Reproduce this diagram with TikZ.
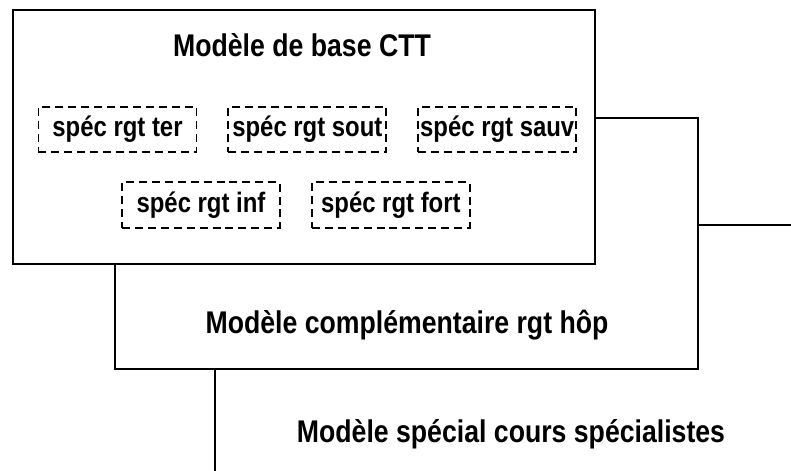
\documentclass[tikz,border=0pt]{standalone}
\usepackage{fontspec}
\newfontfamily\condfont{Liberation Sans}[FakeStretch=0.85]
\usetikzlibrary{positioning}

\tikzset{
  layer/.style={draw, line width=1.4pt, fill=white},
  title/.style={anchor=base, inner sep=0pt, font=\condfont\bfseries\fontsize{22.3}{26}\selectfont},
  specbox/.style={draw, line width=1.3pt, dash pattern=on 5.7pt off 3.5pt,
    minimum width=3.95cm, minimum height=1.13cm, inner sep=0pt,
    font=\condfont\bfseries\fontsize{20}{24}\selectfont}
}

\begin{document}
\begin{tikzpicture}[x=0.025cm, y=-0.025cm]
    \useasboundingbox (0, 0) rectangle (791, 470);
    \clip (0, 0) rectangle (791, 470);

    % layers, back to front
    \draw[layer] (215, 225) rectangle (830, 520);
    \draw[layer] (115, 118) rectangle (698, 369);
    \draw[layer] (13, 10) rectangle (595, 264);

    \node[title] (base) at (302, 56) {Modèle de base CTT};
    \node[title] (compl) at (407, 333) {Modèle complémentaire rgt hôp};
    \node[title] (spec) at (511, 442) {Modèle spécial cours spécialistes};

    % dashed boxes
    \node[specbox] (ter) at (117.5, 129.5) {spéc rgt ter};
    \node[specbox, right=0.75cm of ter] (sout) {spéc rgt sout};
    \node[specbox, right=0.75cm of sout] (sauv) {spéc rgt sauv};
    \node[specbox] (inf) at (201, 205) {spéc rgt inf};
    \node[specbox, right=0.75cm of inf] (fort) {spéc rgt fort};
\end{tikzpicture}
\end{document}
